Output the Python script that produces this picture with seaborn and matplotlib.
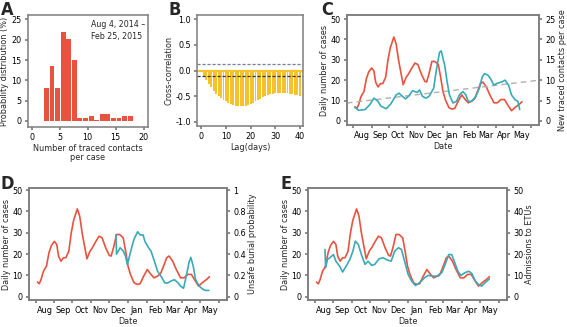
import matplotlib
matplotlib.use("Agg")
import matplotlib.pyplot as plt
import matplotlib.dates as mdates
import matplotlib.ticker as mticker
import numpy as np
import pandas as pd
import seaborn as sns

# ---- data ----
# A: distribution of traced contacts per case
contacts = np.arange(3, 19)
contact_pct = [8.1, 13.6, 8.1, 22.0, 20.1, 15.0, 0.8, 0.8, 1.3, 0.3, 1.8, 1.8, 0.8, 0.8, 1.3, 1.3]

# B: cross-correlation by lag
lags = np.arange(0, 41)
xcorr = [-0.02, -0.10, -0.18, -0.26, -0.32, -0.39, -0.45, -0.49, -0.53, -0.57,
         -0.60, -0.63, -0.66, -0.68, -0.69, -0.70, -0.70, -0.70, -0.69, -0.67,
         -0.65, -0.63, -0.60, -0.58, -0.55, -0.52, -0.50, -0.48, -0.46, -0.45,
         -0.44, -0.44, -0.44, -0.44, -0.44, -0.44, -0.45, -0.46, -0.47, -0.48, -0.50]
ci_upper = 0.12
ci_lower = -0.115

# daily number of cases (C, D, E)
case_dates = ["2014-08-04", "2014-08-07", "2014-08-10", "2014-08-14", "2014-08-19", "2014-08-23",
              "2014-08-27", "2014-09-01", "2014-09-05", "2014-09-08", "2014-09-12", "2014-09-16",
              "2014-09-20", "2014-09-25", "2014-09-29", "2014-10-03", "2014-10-07", "2014-10-09",
              "2014-10-13", "2014-10-17", "2014-10-21", "2014-10-25", "2014-10-30", "2014-11-03",
              "2014-11-08", "2014-11-14", "2014-11-19", "2014-11-25", "2014-12-01", "2014-12-04",
              "2014-12-08", "2014-12-13", "2014-12-18", "2014-12-24", "2014-12-28", "2015-01-01",
              "2015-01-05", "2015-01-11", "2015-01-16", "2015-01-21", "2015-01-27", "2015-02-02",
              "2015-02-08", "2015-02-13", "2015-02-19", "2015-02-24", "2015-03-01", "2015-03-06",
              "2015-03-10", "2015-03-16", "2015-03-22", "2015-03-29", "2015-04-04", "2015-04-10",
              "2015-04-16", "2015-04-21", "2015-04-28", "2015-05-04", "2015-05-11", "2015-05-16"]
cases = [6.9, 6.1, 8.1, 12.0, 14.4, 20.6, 24.0, 26.0, 24.5, 19.0, 16.7, 18.3,
         18.3, 21.4, 30.0, 36.0, 39.4, 41.2, 37.8, 30.0, 23.8, 17.8, 21.4, 23.0,
         25.6, 28.4, 27.7, 23.0, 19.4, 19.1, 23.0, 29.2, 29.2, 27.7, 21.5, 14.4,
         10.5, 6.6, 5.8, 6.1, 9.7, 12.8, 10.5, 8.9, 9.7, 10.9, 14.4, 18.3,
         19.1, 16.7, 12.8, 8.9, 8.9, 10.5, 10.5, 8.1, 5.0, 6.6, 8.1, 9.4]

# C: new traced contacts per case
contact_dates = ["2014-08-03", "2014-08-10", "2014-08-21", "2014-08-29", "2014-09-05", "2014-09-12",
                 "2014-09-17", "2014-09-26", "2014-10-04", "2014-10-13", "2014-10-18", "2014-10-24",
                 "2014-10-29", "2014-11-04", "2014-11-10", "2014-11-18", "2014-11-22", "2014-11-27",
                 "2014-12-03", "2014-12-08", "2014-12-16", "2014-12-21", "2014-12-26", "2014-12-29",
                 "2015-01-04", "2015-01-08", "2015-01-12", "2015-01-18", "2015-01-24", "2015-01-29",
                 "2015-02-04", "2015-02-09", "2015-02-13", "2015-02-19", "2015-02-26", "2015-03-04",
                 "2015-03-09", "2015-03-13", "2015-03-19", "2015-03-23", "2015-03-29", "2015-04-03",
                 "2015-04-12", "2015-04-17", "2015-04-23", "2015-04-28", "2015-05-04", "2015-05-09",
                 "2015-05-12"]
new_contacts = [3.4, 2.6, 2.8, 4.0, 5.6, 4.8, 3.6, 3.0, 4.2, 6.4, 6.8, 6.0,
                5.4, 6.2, 7.4, 7.0, 7.6, 6.0, 5.6, 6.0, 8.0, 12.8, 16.8, 17.2,
                13.6, 9.6, 6.4, 4.4, 4.8, 6.4, 7.2, 6.4, 4.8, 4.8, 6.0, 8.0,
                10.8, 11.6, 11.2, 10.4, 8.8, 9.2, 9.6, 10.0, 8.8, 6.4, 5.2, 4.8, 2.8]
trend_dates = ["2014-07-21", "2015-06-14"]
trend_vals = [4.4, 10.0]

# D: unsafe burial probability
burial_dates = ["2014-12-12", "2014-12-13", "2014-12-19", "2014-12-24", "2014-12-28", "2014-12-31",
                "2015-01-03", "2015-01-07", "2015-01-11", "2015-01-17", "2015-01-21", "2015-01-26",
                "2015-01-29", "2015-02-04", "2015-02-08", "2015-02-14", "2015-02-19", "2015-02-25",
                "2015-03-03", "2015-03-08", "2015-03-14", "2015-03-19", "2015-03-25", "2015-03-29",
                "2015-04-03", "2015-04-07", "2015-04-12", "2015-04-15", "2015-04-19", "2015-04-23",
                "2015-04-29", "2015-05-04", "2015-05-09", "2015-05-15"]
unsafe_burial = [0.58, 0.40, 0.46, 0.43, 0.38, 0.30, 0.37, 0.46, 0.54, 0.61, 0.58, 0.58,
                 0.52, 0.46, 0.43, 0.33, 0.24, 0.19, 0.13, 0.13, 0.15, 0.16, 0.13, 0.10,
                 0.08, 0.18, 0.32, 0.37, 0.29, 0.16, 0.10, 0.075, 0.06, 0.06]

# E: admissions to ETUs
etu_dates = ["2014-08-18", "2014-08-19", "2014-08-22", "2014-08-26", "2014-09-01", "2014-09-05",
             "2014-09-11", "2014-09-16", "2014-09-22", "2014-09-28", "2014-10-03", "2014-10-07",
             "2014-10-12", "2014-10-17", "2014-10-23", "2014-10-28", "2014-11-03", "2014-11-08",
             "2014-11-15", "2014-11-22", "2014-11-29", "2014-12-05", "2014-12-11", "2014-12-17",
             "2014-12-22", "2014-12-28", "2015-01-02", "2015-01-08", "2015-01-14", "2015-01-21",
             "2015-01-29", "2015-02-04", "2015-02-13", "2015-02-21", "2015-02-27", "2015-03-05",
             "2015-03-10", "2015-03-15", "2015-03-19", "2015-03-25", "2015-03-30", "2015-04-05",
             "2015-04-12", "2015-04-17", "2015-04-23", "2015-04-28", "2015-05-03", "2015-05-09",
             "2015-05-16"]
etu_admissions = [22.2, 13.6, 17.5, 18.3, 19.8, 16.7, 14.4, 11.6, 14.4, 17.5, 21.4, 26.1,
                  24.5, 19.8, 15.2, 16.7, 14.7, 15.2, 17.8, 18.3, 17.2, 16.7, 21.4, 23.0,
                  22.2, 15.9, 10.5, 7.3, 5.3, 6.6, 8.9, 10.0, 9.7, 9.7, 11.6, 15.9,
                  19.8, 19.8, 16.7, 12.0, 10.0, 11.2, 12.0, 10.9, 7.3, 5.8, 5.0, 6.6, 8.4]

date_range = ("2014-07-21", "2015-06-14")

RED = "#E8533F"
TEAL = "#3AAAB8"
YELLOW = "#F6C22C"
GRAY = "#7d7d7d"

sns.set_theme(style="ticks")
plt.rcParams["font.family"] = ["DejaVu Sans"]
plt.rcParams["font.stretch"] = "condensed"
plt.rcParams["axes.unicode_minus"] = False
plt.rcParams["font.size"] = 6.5
plt.rcParams["axes.edgecolor"] = GRAY
plt.rcParams["axes.linewidth"] = 1.1
plt.rcParams["xtick.color"] = GRAY
plt.rcParams["ytick.color"] = GRAY
plt.rcParams["xtick.labelcolor"] = "black"
plt.rcParams["ytick.labelcolor"] = "black"
plt.rcParams["xtick.major.size"] = 2.5
plt.rcParams["ytick.major.size"] = 2.5
plt.rcParams["xtick.major.pad"] = 2
plt.rcParams["ytick.major.pad"] = 2
plt.rcParams["xtick.labelsize"] = 6.5
plt.rcParams["ytick.labelsize"] = 6.5
plt.rcParams["axes.labelsize"] = 6.5
plt.rcParams["axes.labelpad"] = 1.5

fig = plt.figure(figsize=(5.67, 3.27), dpi=100)

W, H = 567.0, 327.0


def box(x0, y0, x1, y1):
    return [x0 / W, 1 - y1 / H, (x1 - x0) / W, (y1 - y0) / H]


def date_axis(ax):
    ax.set_xlim(pd.Timestamp(date_range[0]), pd.Timestamp(date_range[1]))
    ax.xaxis.set_major_locator(mdates.MonthLocator(bymonthday=1))
    ax.xaxis.set_major_formatter(mticker.NullFormatter())
    ax.xaxis.set_minor_locator(mdates.MonthLocator(bymonthday=16))
    ax.xaxis.set_minor_formatter(mdates.DateFormatter("%b"))
    ax.tick_params(axis="x", which="minor", length=0, pad=4)
    ax.set_xlabel("Date")


# ---- A ----
axA = fig.add_axes(box(28, 15, 148, 127))
axA.bar(contacts - 0.4, contact_pct, width=0.88, color=RED, linewidth=0)
axA.set_xlim(-0.7, 20.8)
axA.set_ylim(-1.5, 26.1)
axA.set_xticks([0, 5, 10, 15, 20])
axA.set_yticks([0, 5, 10, 15, 20, 25])
axA.set_xlabel("Number of traced contacts\nper case", linespacing=0.95)
axA.set_ylabel("Probability distribution (%)")
axA.text(10.6, 24.8, "Aug 4, 2014 \u2013\nFeb 25, 2015", ha="left", va="top",
         fontsize=6.3, linespacing=1.45)

# ---- B ----
axB = fig.add_axes(box(197, 15, 303, 126))
axB.bar(lags, xcorr, width=0.78, color=YELLOW, linewidth=0)
axB.axhline(0, color=YELLOW, lw=1.6)
axB.axhline(ci_upper, color="#6e8594", lw=0.9, ls=(0, (2.5, 1.5)))
axB.axhline(ci_lower, color="#333333", lw=0.9, ls=(0, (2.5, 1.5)))
axB.set_xlim(-1.75, 41.3)
axB.set_ylim(-1.08, 1.08)
axB.set_xticks([0, 10, 20, 30, 40])
axB.set_yticks([-1.0, -0.5, 0.0, 0.5, 1.0])
axB.yaxis.set_major_formatter(mticker.FormatStrFormatter("%.1f"))
axB.set_xlabel("Lag(days)")
axB.set_ylabel("Cross-correlation")

case_df = pd.DataFrame({"date": pd.to_datetime(case_dates), "cases": cases})

# ---- C ----
axC = fig.add_axes(box(347, 15, 539, 125))
sns.lineplot(data=case_df, x="date", y="cases", color=RED, lw=1.2, ax=axC)
axC.set_ylim(-2, 52)
axC.set_yticks(range(0, 51, 10))
axC.set_ylabel("Daily number of cases")
axC2 = axC.twinx()
sns.lineplot(x=pd.to_datetime(trend_dates), y=trend_vals, color="#b0b0b0", lw=1.0,
             ls=(0, (4, 3)), ax=axC2)
sns.lineplot(x=pd.to_datetime(contact_dates), y=new_contacts, color=TEAL, lw=1.2, ax=axC2)
axC2.set_ylim(-1, 26)
axC2.set_yticks(range(0, 26, 5))
axC2.set_ylabel("New traced contacts per case")
date_axis(axC)

# ---- D ----
axD = fig.add_axes(box(29, 188, 227, 300))
sns.lineplot(data=case_df, x="date", y="cases", color=RED, lw=1.2, ax=axD)
axD.set_ylim(-1.5, 51)
axD.set_yticks(range(0, 51, 10))
axD.set_ylabel("Daily number of cases")
axD2 = axD.twinx()
sns.lineplot(x=pd.to_datetime(burial_dates), y=unsafe_burial, color=TEAL, lw=1.2, ax=axD2)
axD2.set_ylim(-0.03, 1.02)
axD2.set_yticks([0, 0.2, 0.4, 0.6, 0.8, 1.0])
axD2.set_yticklabels(["0", "0.2", "0.4", "0.6", "0.8", "1"])
axD2.set_ylabel("Unsafe burial probability")
date_axis(axD)

# ---- E ----
axE = fig.add_axes(box(308, 188, 507, 300))
sns.lineplot(data=case_df, x="date", y="cases", color=RED, lw=1.2, ax=axE)
axE.set_ylim(-1.5, 51)
axE.set_yticks(range(0, 51, 10))
axE.set_ylabel("Daily number of cases")
axE2 = axE.twinx()
sns.lineplot(x=pd.to_datetime(etu_dates), y=etu_admissions, color=TEAL, lw=1.2, ax=axE2)
axE2.set_ylim(-1.5, 51)
axE2.set_yticks(range(0, 51, 10))
axE2.set_ylabel("Admissions to ETUs")
date_axis(axE)

for ax in [axA, axB, axC, axD, axE, axC2, axD2, axE2]:
    for s in ax.spines.values():
        s.set_color(GRAY)

for letter, x, y in [("A", 1, 1), ("B", 168, 1), ("C", 321, 1), ("D", 0, 175), ("E", 281, 175)]:
    fig.text(x / W, 1 - y / H, letter, fontsize=13, fontweight="bold", ha="left", va="top")

fig.savefig("out.png", dpi=100)
